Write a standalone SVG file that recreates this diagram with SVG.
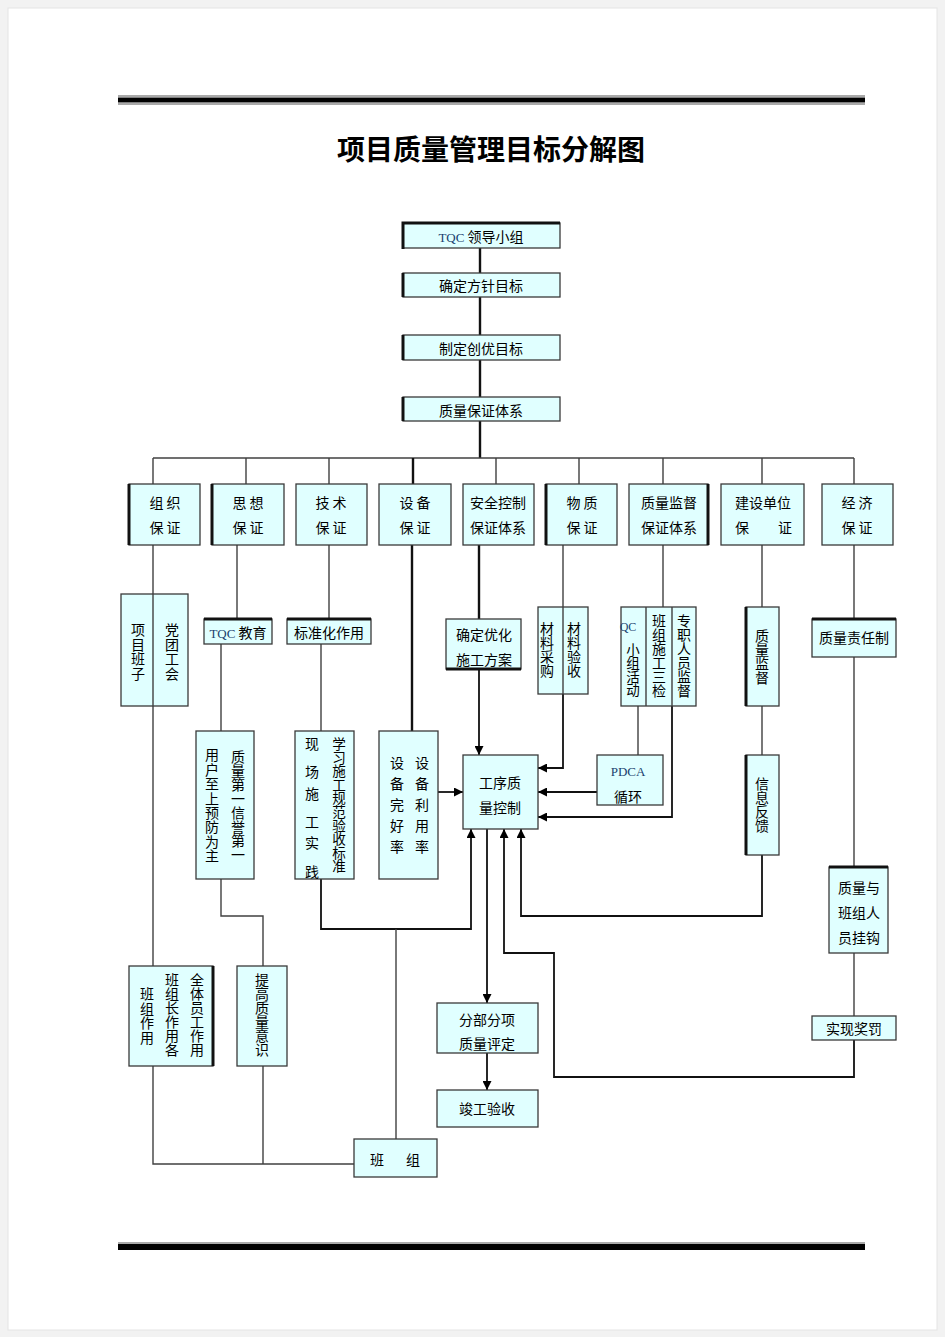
<svg xmlns="http://www.w3.org/2000/svg" width="945" height="1337" viewBox="0 0 945 1337">
<defs>
<style>
.bx{fill:#e0ffff;stroke:#3a3a3a;stroke-width:1.3}
.t{font-family:"Noto Sans CJK SC","Liberation Sans",sans-serif;font-size:14px;fill:#000}
.c{text-anchor:middle}
.v{font-family:"Noto Sans CJK SC",sans-serif;font-size:14px;fill:#000;writing-mode:vertical-rl;text-orientation:upright}
.q{font-family:"Liberation Serif",serif;font-size:13px;fill:#1a3f6f}
.ln{fill:none;stroke:#404040;stroke-width:1.4}
.tk{fill:none;stroke:#111;stroke-width:2.4}
.ar{fill:none;stroke:#111;stroke-width:1.8}
.edge{fill:none;stroke:#111;stroke-width:3}
</style>
<marker id="ah" viewBox="0 0 10 10" refX="10" refY="5" markerWidth="9" markerHeight="9" markerUnits="userSpaceOnUse" orient="auto">
<path d="M0,0 L10,5 L0,10 z" fill="#000"/>
</marker>
</defs>
<rect x="0" y="0" width="945" height="1337" fill="#f2f2f2"/>
<rect x="8" y="8" width="929" height="1322" fill="#fff" stroke="#e4e4e4"/>
<g id="header">
<rect x="118" y="95.5" width="747" height="1" fill="#555"/>
<rect x="118" y="97.5" width="747" height="5" fill="#000"/>
<rect x="118" y="103.5" width="747" height="1" fill="#555"/>
<rect x="118" y="1242.5" width="747" height="1" fill="#555"/>
<rect x="118" y="1244" width="747" height="6" fill="#000"/>
</g>
<text x="491" y="160" class="t c" style="font-size:28px;font-weight:bold">项目质量管理目标分解图</text>

<g id="connectors">
<path class="tk" d="M480,248 V458"/>
<path class="ln" d="M153,458 H854"/>
<path class="ln" d="M153,458 V484 M246,458 V484 M329,458 V484 M496,458 V484 M579,458 V484 M663,458 V484 M762,458 V484 M854,458 V484"/>
<path class="tk" d="M413,458 V484"/>
<path class="ln" d="M153,545 V966"/>
<path class="ln" d="M237,545 V619"/>
<path class="ln" d="M221,644 V731"/>
<path class="ln" d="M221,879 V916 H263 V966"/>
<path class="ln" d="M329,545 V619"/>
<path class="ln" d="M321,644 V731"/>
<path class="ar" d="M321,879 V929 H471 V829" marker-end="url(#ah)"/>
<path class="ln" d="M396,929 V1139"/>
<path class="tk" d="M412,545 V731"/>
<path class="ar" d="M438,792 H463" marker-end="url(#ah)"/>
<path class="tk" d="M479,545 V619"/>
<path class="ar" d="M479,669 V755" marker-end="url(#ah)"/>
<path class="ln" d="M563,545 V607"/>
<path class="ar" d="M563,694 V768 H538" marker-end="url(#ah)"/>
<path class="ln" d="M663,545 V607"/>
<path class="ln" d="M638,706 V755"/>
<path class="ar" d="M672,706 V817 H538" marker-end="url(#ah)"/>
<path class="ar" d="M597,792 H538" marker-end="url(#ah)"/>
<path class="ln" d="M762,545 V607 M762,706 V755"/>
<path class="ar" d="M762,855 V916 H521 V829" marker-end="url(#ah)"/>
<path class="ln" d="M854,545 V619 M854,657 V867 M854,953 V1016"/>
<path class="ar" d="M854,1040 V1077 H554 V953 H504 V829" marker-end="url(#ah)"/>
<path class="ar" d="M487,829 V1003" marker-end="url(#ah)"/>
<path class="ar" d="M487,1053 V1090" marker-end="url(#ah)"/>
<path class="ln" d="M153,1066 V1164 H354 M263,1066 V1164"/>
</g>

<g id="n-tqc">
<rect class="bx" x="403" y="223" width="157" height="25"/>
<path class="edge" d="M403,249 V223 H560"/>
<text x="481" y="242" class="t c"><tspan class="q">TQC</tspan> 领导小组</text>
</g>
<g id="n-fangzhen">
<rect class="bx" x="403" y="273" width="157" height="24"/>
<path class="edge" d="M403,273 V297"/>
<text x="481" y="291" class="t c">确定方针目标</text>
</g>
<g id="n-chuangyou">
<rect class="bx" x="403" y="335" width="157" height="25"/>
<path class="edge" d="M403,335 V360"/>
<text x="481" y="354" class="t c">制定创优目标</text>
</g>
<g id="n-tixi">
<rect class="bx" x="403" y="397" width="157" height="24"/>
<path class="edge" d="M403,397 V421"/>
<text x="481" y="416" class="t c">质量保证体系</text>
</g>

<g id="n-zuzhi">
<rect class="bx" x="129" y="484" width="71" height="61"/>
<path class="edge" d="M129,484 V545"/>
<text x="165" y="508" class="t c">组 织</text>
<text x="165" y="533" class="t c">保 证</text>
</g>
<g id="n-sixiang">
<rect class="bx" x="212" y="484" width="72" height="61"/>
<path class="edge" d="M212,484 V545"/>
<text x="248" y="508" class="t c">思 想</text>
<text x="248" y="533" class="t c">保 证</text>
</g>
<g id="n-jishu">
<rect class="bx" x="296" y="484" width="71" height="61"/>
<text x="331" y="508" class="t c">技 术</text>
<text x="331" y="533" class="t c">保 证</text>
</g>
<g id="n-shebei">
<rect class="bx" x="379" y="484" width="72" height="61"/>
<text x="415" y="508" class="t c">设 备</text>
<text x="415" y="533" class="t c">保 证</text>
</g>
<g id="n-anquan">
<rect class="bx" x="463" y="484" width="71" height="61"/>
<text x="498" y="508" class="t c">安全控制</text>
<text x="498" y="533" class="t c">保证体系</text>
</g>
<g id="n-wuzhi">
<rect class="bx" x="546" y="484" width="71" height="61"/>
<path class="edge" d="M546,484 V545"/>
<text x="582" y="508" class="t c">物 质</text>
<text x="582" y="533" class="t c">保 证</text>
</g>
<g id="n-jiandu">
<rect class="bx" x="629" y="484" width="79" height="61"/>
<path class="edge" d="M708,484 V545"/>
<text x="669" y="508" class="t c">质量监督</text>
<text x="669" y="533" class="t c">保证体系</text>
</g>
<g id="n-jianshe">
<rect class="bx" x="721" y="484" width="83" height="61"/>
<text x="763" y="508" class="t c">建设单位</text>
<text x="742" y="533" class="t c">保</text>
<text x="785" y="533" class="t c">证</text>
</g>
<g id="n-jingji">
<rect class="bx" x="822" y="484" width="71" height="61"/>
<text x="857" y="508" class="t c">经 济</text>
<text x="857" y="533" class="t c">保 证</text>
</g>

<g id="n-banzi">
<rect class="bx" x="121" y="594" width="67" height="112"/>
<path class="ln" d="M153,594 V706"/>
<text x="138" y="623" class="v" style="letter-spacing:0.5px">项目班子</text>
<text x="172" y="623" class="v" style="letter-spacing:0.5px">党团工会</text>
</g>
<g id="n-tqcedu">
<rect class="bx" x="204" y="619" width="68" height="25"/>
<path class="edge" d="M204,619 H272"/>
<text x="238" y="638" class="t c"><tspan class="q">TQC</tspan> 教育</text>
</g>
<g id="n-biaozhun">
<rect class="bx" x="287" y="619" width="84" height="25"/>
<path class="edge" d="M287,619 H371"/>
<text x="329" y="638" class="t c">标准化作用</text>
</g>
<g id="n-zhiliangdiyi">
<rect class="bx" x="196" y="731" width="58" height="148"/>
<text x="212" y="748" class="v" style="letter-spacing:0.4px">用户至上预防为主</text>
<text x="238" y="750" class="v">质量第一信誉第一</text>
</g>
<g id="n-xuexi">
<rect class="bx" x="295" y="731" width="59" height="148"/>
<text x="312" y="749" class="t c">现</text>
<text x="312" y="777" class="t c">场</text>
<text x="312" y="799" class="t c">施</text>
<text x="312" y="827" class="t c">工</text>
<text x="312" y="848" class="t c">实</text>
<text x="312" y="877" class="t c">践</text>
<text x="339" y="737" class="v" style="font-size:13.6px">学习施工规范验收标准</text>
</g>
<g id="n-shebeilv">
<rect class="bx" x="379" y="731" width="59" height="148"/>
<text x="397" y="756" class="v" style="letter-spacing:7px">设备完好率</text>
<text x="422" y="756" class="v" style="letter-spacing:7px">设备利用率</text>
</g>
<g id="n-youhua">
<rect class="bx" x="446" y="619" width="75" height="50"/>
<path class="edge" d="M446,669 H521"/>
<text x="484" y="640" class="t c">确定优化</text>
<text x="484" y="665" class="t c">施工方案</text>
</g>
<g id="n-cailiao">
<rect class="bx" x="538" y="607" width="50" height="87"/>
<path class="ln" d="M563,607 V694"/>
<text x="547" y="622" class="v">材料采购</text>
<text x="574" y="622" class="v">材料验收</text>
</g>
<g id="n-gongxu">
<rect class="bx" x="463" y="755" width="75" height="74"/>
<text x="500" y="788" class="t c">工序质</text>
<text x="500" y="813" class="t c">量控制</text>
</g>
<g id="n-qc">
<rect class="bx" x="621" y="607" width="75" height="99"/>
<path class="ln" d="M646,607 V706 M672,607 V706"/>
<text x="628" y="631" class="q c" style="font-size:12px">QC</text>
<text x="633" y="643" class="v" style="font-size:13.5px">小组活动</text>
<text x="659" y="614" class="v">班组施工三检</text>
<text x="684" y="614" class="v">专职人员监督</text>
</g>
<g id="n-pdca">
<rect class="bx" x="597" y="755" width="66" height="50"/>
<text x="628" y="776" class="q c">PDCA</text>
<text x="628" y="802" class="t c">循环</text>
</g>
<g id="n-zljd">
<rect class="bx" x="746" y="607" width="33" height="99"/>
<path class="edge" d="M746,607 V706"/>
<text x="762" y="629" class="v">质量监督</text>
</g>
<g id="n-xinxi">
<rect class="bx" x="746" y="755" width="33" height="100"/>
<path class="edge" d="M746,755 V855"/>
<text x="762" y="777" class="v">信息反馈</text>
</g>
<g id="n-zerenzhi">
<rect class="bx" x="812" y="619" width="84" height="38"/>
<path class="edge" d="M812,619 H896"/>
<text x="854" y="643" class="t c">质量责任制</text>
</g>
<g id="n-guagou">
<rect class="bx" x="829" y="867" width="59" height="86"/>
<path class="edge" d="M829,867 H888"/>
<text x="859" y="893" class="t c">质量与</text>
<text x="859" y="918" class="t c">班组人</text>
<text x="859" y="943" class="t c">员挂钩</text>
</g>
<g id="n-jiangfa">
<rect class="bx" x="812" y="1016" width="84" height="24"/>
<text x="854" y="1034" class="t c">实现奖罚</text>
</g>
<g id="n-banzuzuoyong">
<rect class="bx" x="129" y="966" width="84" height="100"/>
<path class="edge" d="M213,966 V1066"/>
<text x="147" y="987" class="v" style="letter-spacing:0.5px">班组作用</text>
<text x="172" y="973" class="v">班组长作用各</text>
<text x="197" y="973" class="v">全体员工作用</text>
</g>
<g id="n-tigao">
<rect class="bx" x="237" y="966" width="50" height="100"/>
<text x="262" y="973" class="v">提高质量意识</text>
</g>
<g id="n-banzu">
<rect class="bx" x="354" y="1139" width="83" height="38"/>
<text x="377" y="1165" class="t c">班</text>
<text x="413" y="1165" class="t c">组</text>
</g>
<g id="n-fenbu">
<rect class="bx" x="437" y="1003" width="101" height="50"/>
<text x="487" y="1025" class="t c">分部分项</text>
<text x="487" y="1049" class="t c">质量评定</text>
</g>
<g id="n-jungong">
<rect class="bx" x="437" y="1090" width="101" height="37"/>
<text x="487" y="1114" class="t c">竣工验收</text>
</g>
</svg>
